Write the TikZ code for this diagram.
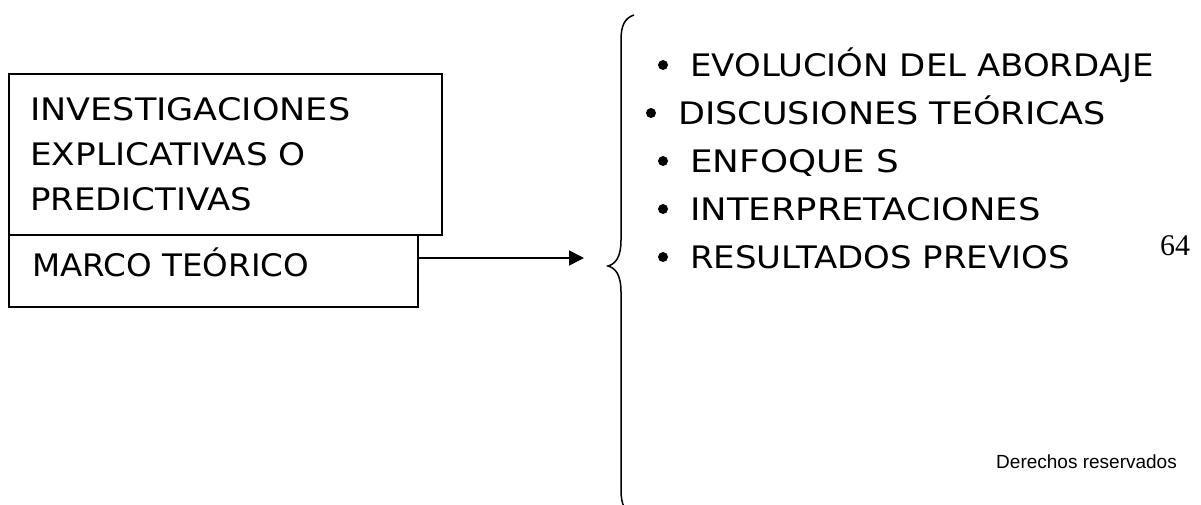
\documentclass[tikz,border=0pt]{standalone}
\usepackage{graphicx}
\usepackage{fontspec}
\setmainfont{DejaVu Sans}
\newfontfamily\handfont[FakeStretch=1.13]{DejaVu Sans}
\newfontfamily\pagefont{Liberation Serif}
\newfontfamily\notefont{Liberation Sans}
\usetikzlibrary{arrows.meta}
% horizontal squeeze/stretch of one line of text
\newcommand\linew[2]{\scalebox{#1}[1]{#2}}
\begin{document}
\begin{tikzpicture}[x=1pt,y=-1pt,
  frame/.style={draw, line width=1.8pt, inner sep=0pt, anchor=north west},
  label/.style={font=\handfont\fontsize{31}{45}\selectfont, anchor=base west, inner sep=0pt},
  dot/.style={circle, fill, inner sep=0pt, minimum size=10pt},
  link/.style={line width=1.5pt, -{Triangle[length=15pt,width=15pt]}},
  brace/.style={line width=1.5pt},
]
\useasboundingbox (0,0) rectangle (1201,504);

% the two stacked boxes on the left
\node[frame, minimum width=433pt, minimum height=161pt] (research) at (8,73) {};
\node[frame, minimum width=409pt, minimum height=72pt] (marco) at (8,234) {};

\node[label] (l1) at (30,120) {INVESTIGACIONES};
\node[label] (l2) at (30,165) {\linew{0.98}{EXPLICATIVAS O}};
\node[label] (l3) at (30,210) {\linew{0.97}{PREDICTIVAS}};
\node[label] (l4) at (32,276) {\linew{0.93}{MARCO TEÓRICO}};

% curly brace
\coordinate (bracetip) at (608,266);
\draw[brace] (634,15) .. controls (625,18) and (621,25) .. (621,40)
  -- (621,240) .. controls (621,258) and (615,264) .. (bracetip)
  .. controls (615,268) and (621,274) .. (621,292)
  -- (621,490) .. controls (621,505) and (625,512) .. (634,515);

% connector
\coordinate (arrowtip) at (584,258);
\draw[link] (marco.east |- arrowtip) -- (arrowtip);

% bullet list
\node[dot] (d1) at (663,65) {};
\node[label] (b1) at (690,76) {\linew{0.97}{EVOLUCIÓN DEL ABORDAJE}};
\node[dot] (d2) at (651,113) {};
\node[label] (b2) at (678,124) {\linew{1.0}{DISCUSIONES TEÓRICAS}};
\node[dot] (d3) at (663,161) {};
\node[label] (b3) at (690,172) {\linew{1.02}{ENFOQUE S}};
\node[dot] (d4) at (663,209) {};
\node[label] (b4) at (690,220) {\linew{1.01}{INTERPRETACIONES}};
\node[dot] (d5) at (663,257) {};
\node[label] (b5) at (690,268) {\linew{0.97}{RESULTADOS PREVIOS}};

% page number and footer
\node[font=\pagefont\fontsize{30}{36}\selectfont, anchor=base west, inner sep=0pt] (page) at (1160,255) {64};
\node[font=\notefont\fontsize{19}{23}\selectfont, anchor=base east, inner sep=0pt] (rights) at (1177,468) {Derechos reservados};
\end{tikzpicture}
\end{document}
